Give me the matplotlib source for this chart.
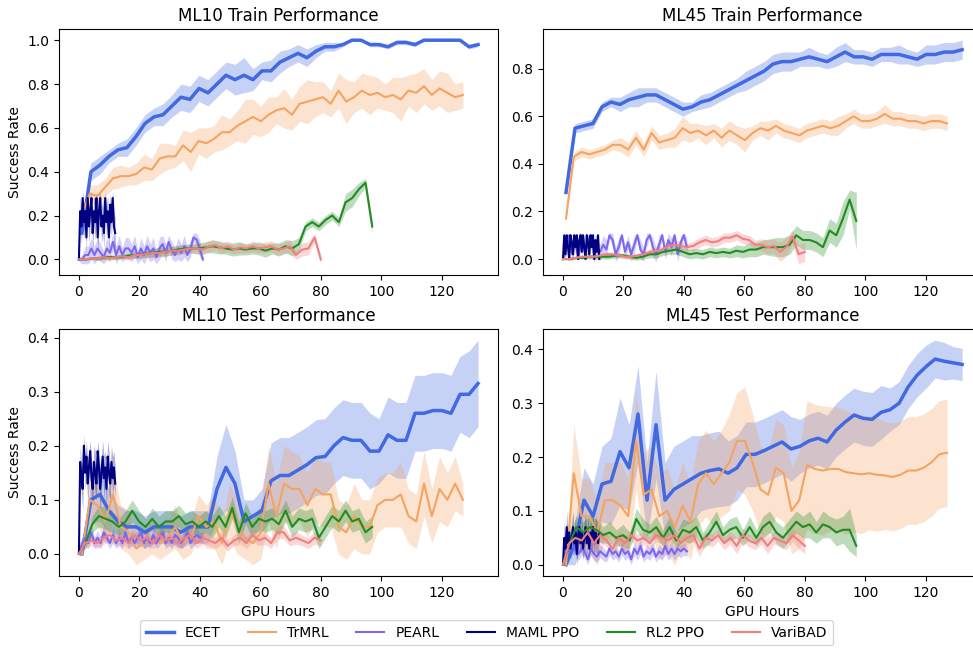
"""
Meta-RL benchmark curves: success rate vs GPU hours on ML10 / ML45.
"""

import matplotlib

matplotlib.use("Agg")
import matplotlib.pyplot as plt
import numpy as np

# --- methods ---
METHODS = ["ECET", "TrMRL", "PEARL", "MAML PPO", "RL2 PPO", "VariBAD"]
COLORS = ["royalblue", "sandybrown", "mediumslateblue", "navy", "forestgreen", "lightcoral"]
WIDTHS = [2.5, 1.5, 1.5, 1.5, 1.5, 1.5]

# GPU-hour span covered by each method's run
hours_start = [1, 1, 0, 0, 0, 0]
hours_end = [132, 127, 41, 12, 97, 80]

# ---------------- ML10 train ----------------
ml10_train_ecet = [0.12, 0.40, 0.43, 0.47, 0.50, 0.51, 0.56, 0.62, 0.65, 0.66, 0.70, 0.74, 0.73, 0.78, 0.76,
                   0.80, 0.84, 0.82, 0.84, 0.82, 0.86, 0.86, 0.90, 0.92, 0.94, 0.92, 0.95, 0.97, 0.97, 0.98,
                   1.0, 1.0, 0.98, 0.98, 0.97, 0.99, 0.99, 0.98, 1.0, 1.0, 1.0, 1.0, 1.0, 0.97, 0.98]
ml10_train_ecet_sd = [0.02, 0.04, 0.04, 0.03, 0.03, 0.04, 0.04, 0.04, 0.04, 0.05, 0.05, 0.06, 0.06, 0.06, 0.06,
                      0.06, 0.06, 0.07, 0.08, 0.05, 0.04, 0.05, 0.05, 0.04, 0.04, 0.04, 0.03, 0.02, 0.02, 0.01,
                      0.0, 0.0, 0.01, 0.01, 0.01, 0.01, 0.01, 0.01, 0.0, 0.0, 0.0, 0.0, 0.0, 0.01, 0.01]
ml10_train_trmrl = [0.20, 0.30, 0.29, 0.33, 0.37, 0.38, 0.38, 0.39, 0.42, 0.41, 0.46, 0.47, 0.47, 0.52, 0.49,
                    0.54, 0.53, 0.55, 0.58, 0.58, 0.61, 0.63, 0.65, 0.63, 0.66, 0.68, 0.69, 0.66, 0.71, 0.72,
                    0.73, 0.74, 0.71, 0.77, 0.72, 0.74, 0.77, 0.75, 0.76, 0.74, 0.75, 0.73, 0.77, 0.76, 0.79,
                    0.75, 0.78, 0.76, 0.74, 0.75]
ml10_train_trmrl_sd = [0.03, 0.04, 0.05, 0.04, 0.05, 0.05, 0.04, 0.05, 0.06, 0.05, 0.07, 0.06, 0.05, 0.07, 0.09,
                       0.06, 0.07, 0.06, 0.08, 0.06, 0.07, 0.10, 0.08, 0.07, 0.08, 0.06, 0.09, 0.07, 0.08, 0.10,
                       0.08, 0.07, 0.06, 0.08, 0.10, 0.07, 0.08, 0.09, 0.07, 0.06, 0.08, 0.10, 0.07, 0.09, 0.08,
                       0.07, 0.08, 0.09, 0.06, 0.06]
ml10_train_pearl = [0.0, 0.0, 0.02, 0.02, 0.05, 0.02, 0.05, 0.03, 0.01, 0.05, 0.03, 0.08, 0.02, 0.06, 0.02,
                    0.05, 0.05, 0.03, 0.06, 0.01, 0.05, 0.02, 0.06, 0.03, 0.05, 0.01, 0.05, 0.07, 0.03, 0.08,
                    0.04, 0.02, 0.05, 0.03, 0.06, 0.02, 0.05, 0.10, 0.09, 0.05, 0.0]
ml10_train_pearl_sd = [0.01, 0.02, 0.04, 0.04, 0.05, 0.04, 0.05, 0.04, 0.03, 0.05, 0.04, 0.04, 0.04, 0.05, 0.03,
                       0.05, 0.05, 0.04, 0.05, 0.03, 0.05, 0.04, 0.05, 0.04, 0.05, 0.03, 0.05, 0.04, 0.04, 0.03,
                       0.04, 0.03, 0.05, 0.04, 0.05, 0.03, 0.04, 0.02, 0.03, 0.04, 0.01]
ml10_train_maml = [0.0, 0.22, 0.15, 0.28, 0.17, 0.22, 0.10, 0.28, 0.15, 0.22, 0.28, 0.12, 0.22, 0.17, 0.28,
                   0.10, 0.22, 0.28, 0.15, 0.20, 0.12, 0.28, 0.17, 0.22, 0.10, 0.25, 0.17, 0.28, 0.15, 0.12]
ml10_train_maml_sd = [0.0, 0.07, 0.08, 0.03, 0.08, 0.07, 0.06, 0.03, 0.08, 0.07, 0.03, 0.07, 0.07, 0.08, 0.03,
                      0.06, 0.07, 0.03, 0.08, 0.08, 0.07, 0.03, 0.08, 0.07, 0.06, 0.05, 0.08, 0.03, 0.08, 0.07]
ml10_train_rl2 = [0.0, 0.0, 0.005, 0.005, 0.01, 0.01, 0.01, 0.015, 0.02, 0.02, 0.025, 0.03, 0.035, 0.035, 0.04,
                  0.045, 0.05, 0.05, 0.05, 0.055, 0.06, 0.055, 0.05, 0.045, 0.05, 0.045, 0.05, 0.05, 0.04, 0.05,
                  0.045, 0.06, 0.05, 0.07, 0.15, 0.17, 0.15, 0.18, 0.20, 0.17, 0.26, 0.28, 0.32, 0.35, 0.15]
ml10_train_rl2_sd = [0.0, 0.005, 0.005, 0.01, 0.01, 0.01, 0.01, 0.01, 0.015, 0.015, 0.015, 0.02, 0.02, 0.02,
                     0.02, 0.02, 0.02, 0.02, 0.025, 0.025, 0.03, 0.03, 0.025, 0.03, 0.03, 0.025, 0.025, 0.03,
                     0.03, 0.025, 0.03, 0.03, 0.035, 0.03, 0.02, 0.02, 0.02, 0.02, 0.02, 0.02, 0.04, 0.04,
                     0.03, 0.02, 0.03]
ml10_train_varibad = [0.0, 0.0, 0.005, 0.005, 0.01, 0.005, 0.01, 0.015, 0.01, 0.02, 0.02, 0.025, 0.03, 0.03,
                      0.035, 0.04, 0.04, 0.045, 0.05, 0.05, 0.045, 0.06, 0.065, 0.05, 0.06, 0.045, 0.055, 0.05,
                      0.06, 0.05, 0.055, 0.06, 0.045, 0.05, 0.06, 0.02, 0.045, 0.05, 0.10, 0.0]
ml10_train_varibad_sd = [0.0, 0.005, 0.005, 0.01, 0.01, 0.01, 0.01, 0.01, 0.01, 0.015, 0.015, 0.015, 0.02, 0.02,
                         0.02, 0.02, 0.02, 0.02, 0.02, 0.025, 0.025, 0.025, 0.02, 0.025, 0.025, 0.02, 0.025, 0.02,
                         0.025, 0.02, 0.025, 0.025, 0.025, 0.025, 0.03, 0.02, 0.03, 0.03, 0.02, 0.02]

# ---------------- ML45 train ----------------
ml45_train_ecet = [0.28, 0.55, 0.56, 0.57, 0.64, 0.66, 0.65, 0.67, 0.68, 0.69, 0.69, 0.67, 0.65, 0.63, 0.64,
                   0.66, 0.67, 0.69, 0.71, 0.73, 0.75, 0.77, 0.79, 0.82, 0.83, 0.83, 0.84, 0.85, 0.84, 0.83,
                   0.85, 0.87, 0.85, 0.85, 0.84, 0.86, 0.86, 0.86, 0.85, 0.84, 0.86, 0.86, 0.87, 0.87, 0.88]
ml45_train_ecet_sd = [0.01, 0.02, 0.02, 0.02, 0.02, 0.02, 0.03, 0.03, 0.04, 0.03, 0.03, 0.03, 0.03, 0.03, 0.02,
                      0.03, 0.03, 0.03, 0.03, 0.03, 0.04, 0.04, 0.04, 0.04, 0.04, 0.04, 0.03, 0.04, 0.03, 0.03,
                      0.04, 0.04, 0.03, 0.03, 0.03, 0.03, 0.03, 0.04, 0.03, 0.03, 0.04, 0.04, 0.04, 0.04, 0.04]
ml45_train_trmrl = [0.17, 0.43, 0.45, 0.44, 0.45, 0.46, 0.48, 0.48, 0.46, 0.51, 0.46, 0.53, 0.49, 0.50, 0.51,
                    0.55, 0.53, 0.54, 0.52, 0.54, 0.51, 0.54, 0.52, 0.50, 0.53, 0.55, 0.54, 0.56, 0.54, 0.53,
                    0.52, 0.54, 0.55, 0.56, 0.55, 0.56, 0.58, 0.60, 0.58, 0.58, 0.59, 0.61, 0.59, 0.59, 0.58,
                    0.58, 0.57, 0.58, 0.58, 0.57]
ml45_train_trmrl_sd = [0.01, 0.02, 0.02, 0.02, 0.02, 0.02, 0.02, 0.03, 0.03, 0.03, 0.03, 0.03, 0.03, 0.03, 0.04,
                       0.05, 0.04, 0.03, 0.04, 0.03, 0.04, 0.04, 0.04, 0.05, 0.03, 0.03, 0.04, 0.03, 0.03, 0.03,
                       0.03, 0.03, 0.03, 0.03, 0.03, 0.04, 0.03, 0.03, 0.03, 0.03, 0.03, 0.04, 0.03, 0.03, 0.03,
                       0.03, 0.03, 0.03, 0.03, 0.03]
ml45_train_pearl = [0.0, 0.05, 0.1, 0.02, 0.08, 0.0, 0.1, 0.03, 0.06, 0.1, 0.02, 0.05, 0.03, 0.06, 0.04, 0.1,
                    0.08, 0.02, 0.05, 0.1, 0.03, 0.07, 0.02, 0.06, 0.1, 0.04, 0.02, 0.08, 0.1, 0.05, 0.02, 0.06,
                    0.1, 0.03, 0.08, 0.05, 0.1, 0.02, 0.07, 0.1, 0.05]
ml45_train_pearl_sd = [0.0, 0.04, 0.01, 0.03, 0.03, 0.01, 0.01, 0.03, 0.04, 0.01, 0.03, 0.04, 0.03, 0.04, 0.04,
                       0.01, 0.03, 0.03, 0.04, 0.01, 0.03, 0.03, 0.03, 0.04, 0.01, 0.04, 0.03, 0.03, 0.01, 0.04,
                       0.03, 0.04, 0.01, 0.03, 0.03, 0.04, 0.01, 0.03, 0.03, 0.01, 0.04]
ml45_train_maml = [0.0, 0.1, 0.02, 0.1, 0.05, 0.0, 0.1, 0.07, 0.02, 0.1, 0.05, 0.1, 0.0, 0.08, 0.1, 0.03, 0.1,
                   0.05, 0.0, 0.1, 0.07, 0.02, 0.1, 0.05, 0.1, 0.0, 0.08, 0.03, 0.1, 0.0]
ml45_train_maml_sd = [0.0, 0.01, 0.02, 0.01, 0.04, 0.01, 0.01, 0.03, 0.02, 0.01, 0.04, 0.01, 0.01, 0.03, 0.01,
                      0.02, 0.01, 0.04, 0.01, 0.01, 0.03, 0.02, 0.01, 0.04, 0.01, 0.01, 0.03, 0.02, 0.01, 0.0]
ml45_train_rl2 = [0.0, 0.0, 0.005, 0.005, 0.01, 0.01, 0.01, 0.01, 0.015, 0.015, 0.01, 0.005, 0.01, 0.02, 0.02,
                  0.03, 0.035, 0.04, 0.03, 0.02, 0.025, 0.02, 0.03, 0.025, 0.03, 0.025, 0.035, 0.03, 0.04, 0.04,
                  0.05, 0.05, 0.05, 0.05, 0.06, 0.10, 0.08, 0.08, 0.07, 0.05, 0.12, 0.10, 0.17, 0.25, 0.16]
ml45_train_rl2_sd = [0.0, 0.005, 0.005, 0.005, 0.01, 0.01, 0.01, 0.01, 0.01, 0.01, 0.01, 0.01, 0.01, 0.015,
                     0.015, 0.015, 0.015, 0.02, 0.02, 0.02, 0.02, 0.02, 0.02, 0.02, 0.02, 0.02, 0.025, 0.025,
                     0.03, 0.03, 0.03, 0.035, 0.04, 0.04, 0.04, 0.04, 0.04, 0.04, 0.04, 0.04, 0.05, 0.05, 0.07,
                     0.04, 0.12]
ml45_train_varibad = [0.0, 0.0, 0.005, 0.01, 0.01, 0.01, 0.015, 0.02, 0.02, 0.015, 0.01, 0.01, 0.015, 0.02,
                      0.03, 0.035, 0.04, 0.055, 0.06, 0.055, 0.05, 0.055, 0.07, 0.08, 0.07, 0.075, 0.09, 0.09,
                      0.10, 0.085, 0.08, 0.06, 0.06, 0.05, 0.055, 0.03, 0.05, 0.095, 0.02, 0.03]
ml45_train_varibad_sd = [0.0, 0.005, 0.005, 0.005, 0.005, 0.01, 0.01, 0.01, 0.01, 0.01, 0.01, 0.01, 0.01, 0.01,
                         0.015, 0.015, 0.015, 0.02, 0.02, 0.02, 0.015, 0.02, 0.02, 0.02, 0.02, 0.02, 0.02, 0.02,
                         0.02, 0.02, 0.02, 0.02, 0.025, 0.03, 0.03, 0.04, 0.04, 0.03, 0.04, 0.04]

# ---------------- ML10 test ----------------
ml10_test_ecet = [0.0, 0.10, 0.11, 0.08, 0.06, 0.05, 0.05, 0.04, 0.05, 0.05, 0.05, 0.04, 0.05, 0.05, 0.05,
                  0.12, 0.16, 0.13, 0.06, 0.07, 0.08, 0.135, 0.145, 0.145, 0.155, 0.165, 0.178, 0.18, 0.20,
                  0.215, 0.21, 0.21, 0.19, 0.19, 0.22, 0.21, 0.21, 0.26, 0.26, 0.265, 0.265, 0.26, 0.295,
                  0.295, 0.315]
ml10_test_ecet_sd = [0.0, 0.04, 0.05, 0.04, 0.03, 0.03, 0.03, 0.03, 0.03, 0.03, 0.03, 0.03, 0.03, 0.03, 0.03,
                     0.06, 0.08, 0.06, 0.04, 0.03, 0.04, 0.07, 0.07, 0.07, 0.07, 0.07, 0.07, 0.07, 0.07, 0.07,
                     0.07, 0.07, 0.07, 0.06, 0.07, 0.07, 0.07, 0.07, 0.07, 0.07, 0.07, 0.07, 0.07, 0.08, 0.08]
ml10_test_trmrl = [0.0, 0.10, 0.09, 0.06, 0.11, 0.05, 0.04, 0.01, 0.02, 0.03, 0.02, 0.03, 0.05, 0.02, 0.03,
                   0.07, 0.05, 0.06, 0.02, 0.08, 0.05, 0.03, 0.02, 0.04, 0.13, 0.07, 0.13, 0.12, 0.12, 0.09,
                   0.12, 0.11, 0.11, 0.05, 0.04, 0.07, 0.05, 0.05, 0.09, 0.10, 0.10, 0.11, 0.07, 0.06, 0.13,
                   0.07, 0.12, 0.10, 0.13, 0.10]
ml10_test_trmrl_sd = [0.0, 0.04, 0.04, 0.04, 0.05, 0.04, 0.04, 0.03, 0.03, 0.03, 0.03, 0.03, 0.04, 0.03, 0.03,
                      0.04, 0.04, 0.05, 0.04, 0.05, 0.05, 0.04, 0.04, 0.05, 0.07, 0.06, 0.07, 0.07, 0.06, 0.06,
                      0.06, 0.06, 0.06, 0.05, 0.05, 0.06, 0.05, 0.05, 0.05, 0.05, 0.05, 0.06, 0.05, 0.05, 0.06,
                      0.05, 0.06, 0.05, 0.05, 0.03]
ml10_test_pearl = [0.0, 0.02, 0.03, 0.02, 0.04, 0.02, 0.03, 0.02, 0.04, 0.03, 0.02, 0.035, 0.02, 0.03, 0.02,
                   0.04, 0.02, 0.03, 0.02, 0.03, 0.04, 0.02, 0.03, 0.02, 0.035, 0.02, 0.03, 0.04, 0.02, 0.03,
                   0.02, 0.035, 0.03, 0.02, 0.03, 0.04, 0.02, 0.03, 0.035, 0.03, 0.03]
ml10_test_pearl_sd = [0.0, 0.01, 0.015, 0.01, 0.015, 0.01, 0.015, 0.01, 0.015, 0.01, 0.01, 0.015, 0.01, 0.015,
                      0.01, 0.015, 0.01, 0.015, 0.01, 0.015, 0.015, 0.01, 0.015, 0.01, 0.015, 0.01, 0.015,
                      0.015, 0.01, 0.015, 0.01, 0.015, 0.015, 0.01, 0.015, 0.015, 0.01, 0.015, 0.015, 0.01, 0.01]
ml10_test_maml = [0.0, 0.17, 0.14, 0.12, 0.20, 0.15, 0.18, 0.13, 0.16, 0.19, 0.14, 0.12, 0.17, 0.15, 0.13,
                  0.19, 0.16, 0.12, 0.15, 0.18, 0.14, 0.16, 0.12, 0.18, 0.15, 0.13, 0.17, 0.14, 0.16, 0.13]
ml10_test_maml_sd = [0.0, 0.03, 0.03, 0.04, 0.02, 0.03, 0.03, 0.04, 0.03, 0.02, 0.04, 0.03, 0.03, 0.04, 0.03,
                     0.02, 0.03, 0.04, 0.03, 0.03, 0.04, 0.03, 0.03, 0.03, 0.04, 0.03, 0.03, 0.04, 0.03, 0.03]
ml10_test_rl2 = [0.0, 0.02, 0.055, 0.07, 0.065, 0.06, 0.05, 0.06, 0.08, 0.06, 0.05, 0.065, 0.05, 0.06, 0.06,
                 0.07, 0.055, 0.06, 0.05, 0.06, 0.05, 0.07, 0.05, 0.085, 0.04, 0.075, 0.05, 0.065, 0.06, 0.065,
                 0.055, 0.08, 0.05, 0.065, 0.06, 0.065, 0.03, 0.05, 0.07, 0.06, 0.08, 0.06, 0.065, 0.04, 0.05]
ml10_test_rl2_sd = [0.0, 0.01, 0.015, 0.02, 0.02, 0.02, 0.015, 0.02, 0.02, 0.02, 0.015, 0.02, 0.02, 0.02, 0.02,
                    0.02, 0.02, 0.02, 0.02, 0.02, 0.02, 0.02, 0.02, 0.02, 0.02, 0.02, 0.02, 0.02, 0.02, 0.02,
                    0.02, 0.02, 0.02, 0.02, 0.02, 0.02, 0.02, 0.02, 0.02, 0.02, 0.02, 0.02, 0.02, 0.02, 0.02]
ml10_test_varibad = [0.0, 0.02, 0.025, 0.02, 0.03, 0.035, 0.025, 0.03, 0.02, 0.035, 0.025, 0.03, 0.02, 0.035,
                     0.025, 0.03, 0.02, 0.03, 0.035, 0.02, 0.03, 0.025, 0.02, 0.03, 0.015, 0.025, 0.03, 0.02,
                     0.035, 0.025, 0.03, 0.02, 0.04, 0.04, 0.025, 0.03, 0.025, 0.02, 0.03, 0.025]
ml10_test_varibad_sd = [0.0, 0.01, 0.01, 0.01, 0.012, 0.012, 0.01, 0.012, 0.01, 0.012, 0.01, 0.012, 0.01, 0.012,
                        0.01, 0.012, 0.01, 0.012, 0.012, 0.01, 0.012, 0.01, 0.01, 0.012, 0.01, 0.01, 0.012, 0.01,
                        0.012, 0.01, 0.012, 0.01, 0.012, 0.012, 0.01, 0.012, 0.01, 0.01, 0.012, 0.01]

# ---------------- ML45 test ----------------
ml45_test_ecet = [0.0, 0.04, 0.12, 0.09, 0.15, 0.155, 0.21, 0.18, 0.28, 0.12, 0.26, 0.12, 0.14, 0.15, 0.16,
                  0.17, 0.175, 0.178, 0.17, 0.18, 0.205, 0.205, 0.212, 0.22, 0.228, 0.215, 0.22, 0.23, 0.235,
                  0.228, 0.25, 0.265, 0.278, 0.272, 0.27, 0.283, 0.288, 0.30, 0.33, 0.352, 0.368, 0.382, 0.378,
                  0.375, 0.372]
ml45_test_ecet_sd = [0.0, 0.04, 0.06, 0.06, 0.07, 0.08, 0.10, 0.08, 0.09, 0.07, 0.10, 0.07, 0.08, 0.08, 0.08,
                     0.07, 0.07, 0.07, 0.06, 0.06, 0.06, 0.06, 0.06, 0.06, 0.06, 0.06, 0.05, 0.05, 0.05, 0.05,
                     0.05, 0.05, 0.05, 0.05, 0.05, 0.05, 0.04, 0.04, 0.04, 0.04, 0.04, 0.035, 0.035, 0.03, 0.03]
ml45_test_trmrl = [0.0, 0.17, 0.09, 0.09, 0.06, 0.12, 0.12, 0.11, 0.09, 0.23, 0.13, 0.14, 0.09, 0.10, 0.07,
                   0.11, 0.08, 0.15, 0.17, 0.15, 0.17, 0.19, 0.23, 0.23, 0.19, 0.14, 0.13, 0.18, 0.17, 0.10,
                   0.12, 0.185, 0.178, 0.175, 0.178, 0.178, 0.172, 0.17, 0.168, 0.17, 0.167, 0.166, 0.163,
                   0.167, 0.175, 0.175, 0.18, 0.19, 0.205, 0.208]
ml45_test_trmrl_sd = [0.0, 0.09, 0.07, 0.07, 0.06, 0.07, 0.07, 0.08, 0.07, 0.09, 0.08, 0.08, 0.08, 0.08, 0.07,
                      0.08, 0.07, 0.08, 0.08, 0.08, 0.08, 0.09, 0.09, 0.10, 0.09, 0.08, 0.08, 0.09, 0.09, 0.08,
                      0.09, 0.12, 0.12, 0.12, 0.115, 0.115, 0.115, 0.11, 0.11, 0.105, 0.105, 0.10, 0.10, 0.10,
                      0.10, 0.10, 0.10, 0.10, 0.10, 0.10]
ml45_test_pearl = [0.0, 0.03, 0.025, 0.035, 0.03, 0.02, 0.03, 0.025, 0.01, 0.03, 0.02, 0.015, 0.025, 0.02,
                   0.015, 0.03, 0.02, 0.025, 0.015, 0.03, 0.02, 0.025, 0.01, 0.03, 0.02, 0.035, 0.015, 0.025,
                   0.02, 0.03, 0.015, 0.025, 0.02, 0.035, 0.02, 0.03, 0.02, 0.03, 0.025, 0.03, 0.025]
ml45_test_pearl_sd = [0.0, 0.012, 0.012, 0.015, 0.012, 0.012, 0.012, 0.012, 0.01, 0.012, 0.012, 0.01, 0.012,
                      0.012, 0.01, 0.012, 0.012, 0.012, 0.01, 0.012, 0.012, 0.012, 0.01, 0.012, 0.012, 0.015,
                      0.01, 0.012, 0.012, 0.012, 0.01, 0.012, 0.012, 0.015, 0.012, 0.012, 0.012, 0.012, 0.012,
                      0.012, 0.01]
ml45_test_maml = [0.0, 0.05, 0.03, 0.07, 0.04, 0.06, 0.03, 0.05, 0.07, 0.04, 0.06, 0.02, 0.05, 0.07, 0.04,
                  0.06, 0.03, 0.05, 0.07, 0.04, 0.06, 0.03, 0.06, 0.05, 0.07, 0.04, 0.06, 0.05, 0.04, 0.06]
ml45_test_maml_sd = [0.0, 0.03, 0.02, 0.03, 0.02, 0.03, 0.02, 0.03, 0.03, 0.02, 0.03, 0.02, 0.03, 0.03, 0.02,
                     0.03, 0.02, 0.03, 0.03, 0.02, 0.03, 0.02, 0.03, 0.03, 0.03, 0.02, 0.03, 0.03, 0.02, 0.02]
ml45_test_rl2 = [0.0, 0.04, 0.07, 0.06, 0.07, 0.065, 0.055, 0.06, 0.05, 0.055, 0.045, 0.085, 0.065, 0.06, 0.07,
                 0.05, 0.07, 0.045, 0.065, 0.06, 0.07, 0.045, 0.06, 0.08, 0.055, 0.065, 0.07, 0.05, 0.07, 0.05,
                 0.07, 0.08, 0.06, 0.05, 0.065, 0.08, 0.07, 0.075, 0.06, 0.075, 0.07, 0.06, 0.065, 0.065, 0.035]
ml45_test_rl2_sd = [0.0, 0.02, 0.02, 0.02, 0.02, 0.02, 0.015, 0.02, 0.015, 0.02, 0.015, 0.02, 0.02, 0.015,
                    0.02, 0.015, 0.02, 0.015, 0.02, 0.02, 0.02, 0.015, 0.02, 0.02, 0.015, 0.02, 0.02, 0.015,
                    0.02, 0.015, 0.02, 0.02, 0.02, 0.02, 0.02, 0.02, 0.02, 0.025, 0.02, 0.025, 0.02, 0.025,
                    0.025, 0.04, 0.02]
ml45_test_varibad = [0.0, 0.04, 0.05, 0.045, 0.06, 0.04, 0.055, 0.045, 0.03, 0.05, 0.04, 0.055, 0.045, 0.05,
                     0.04, 0.055, 0.05, 0.045, 0.055, 0.04, 0.05, 0.055, 0.03, 0.05, 0.045, 0.055, 0.04, 0.05,
                     0.035, 0.055, 0.045, 0.04, 0.05, 0.035, 0.05, 0.045, 0.04, 0.055, 0.045, 0.035]
ml45_test_varibad_sd = [0.0, 0.012, 0.012, 0.012, 0.015, 0.012, 0.012, 0.012, 0.015, 0.012, 0.012, 0.012,
                        0.012, 0.012, 0.012, 0.012, 0.012, 0.012, 0.012, 0.012, 0.012, 0.012, 0.015, 0.012,
                        0.012, 0.012, 0.012, 0.012, 0.015, 0.012, 0.012, 0.012, 0.012, 0.015, 0.012, 0.012,
                        0.012, 0.012, 0.015, 0.015]

PANELS = [
    ("ML10 Train Performance",
     [ml10_train_ecet, ml10_train_trmrl, ml10_train_pearl, ml10_train_maml, ml10_train_rl2, ml10_train_varibad],
     [ml10_train_ecet_sd, ml10_train_trmrl_sd, ml10_train_pearl_sd, ml10_train_maml_sd, ml10_train_rl2_sd,
      ml10_train_varibad_sd]),
    ("ML45 Train Performance",
     [ml45_train_ecet, ml45_train_trmrl, ml45_train_pearl, ml45_train_maml, ml45_train_rl2, ml45_train_varibad],
     [ml45_train_ecet_sd, ml45_train_trmrl_sd, ml45_train_pearl_sd, ml45_train_maml_sd, ml45_train_rl2_sd,
      ml45_train_varibad_sd]),
    ("ML10 Test Performance",
     [ml10_test_ecet, ml10_test_trmrl, ml10_test_pearl, ml10_test_maml, ml10_test_rl2, ml10_test_varibad],
     [ml10_test_ecet_sd, ml10_test_trmrl_sd, ml10_test_pearl_sd, ml10_test_maml_sd, ml10_test_rl2_sd,
      ml10_test_varibad_sd]),
    ("ML45 Test Performance",
     [ml45_test_ecet, ml45_test_trmrl, ml45_test_pearl, ml45_test_maml, ml45_test_rl2, ml45_test_varibad],
     [ml45_test_ecet_sd, ml45_test_trmrl_sd, ml45_test_pearl_sd, ml45_test_maml_sd, ml45_test_rl2_sd,
      ml45_test_varibad_sd]),
]

# axes boxes in figure fractions: left, bottom, width, height
AX_BOXES = [
    [0.0606, 0.5763, 0.4512, 0.3790],
    [0.5581, 0.5763, 0.4512, 0.3790],
    [0.0606, 0.1125, 0.4512, 0.3806],
    [0.5581, 0.1125, 0.4512, 0.3806],
]


def plot_panel(ax, title, means, spreads):
    for k, (mean, sd) in enumerate(zip(means, spreads)):
        mean = np.asarray(mean)
        sd = np.asarray(sd)
        hours = np.linspace(hours_start[k], hours_end[k], len(mean))
        ax.fill_between(hours, mean - sd, mean + sd, color=COLORS[k], alpha=0.3, linewidth=0)
        ax.plot(hours, mean, color=COLORS[k], linewidth=WIDTHS[k], label=METHODS[k])
    ax.set_title(title, fontsize=12)
    ax.tick_params(labelsize=10)


fig = plt.figure(figsize=(9.73, 6.49), dpi=100)
axes = []
for i, (title, means, spreads) in enumerate(PANELS):
    ax = fig.add_axes(AX_BOXES[i])
    plot_panel(ax, title, means, spreads)
    axes.append(ax)

axes[0].set_ylabel("Success Rate", fontsize=10)
axes[2].set_ylabel("Success Rate", fontsize=10)
axes[2].set_xlabel("GPU Hours", fontsize=10)
axes[3].set_xlabel("GPU Hours", fontsize=10)

handles, labels = axes[0].get_legend_handles_labels()
fig.legend(handles, labels, loc="lower center", bbox_to_anchor=(0.5, -0.005), ncol=6, fontsize=10,
           handlelength=2.0, columnspacing=2.0)

fig.savefig("out.png", dpi=100)
